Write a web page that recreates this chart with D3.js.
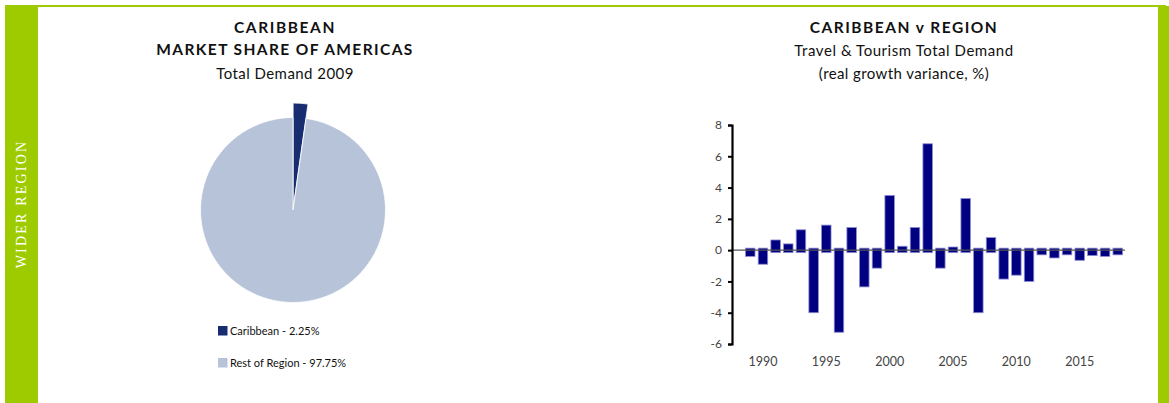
<!DOCTYPE html>
<html>
<head>
<meta charset="utf-8">
<script src="https://cdn.jsdelivr.net/npm/d3@7"></script>
<style>
  html, body { margin: 0; padding: 0; background: #fff; }
  svg { display: block; }
</style>
</head>
<body>
<svg id="chart" width="1169" height="403"></svg>
<script>
// Market share, 2009 total demand
const shareLabels = ["Caribbean", "Rest of Region"];
const shareValues = [2.25, 97.75];
const shareColors = ["#172d70", "#b6c3d9"];

// Caribbean vs region, real growth variance (%)
const years = d3.range(1989, 2019);
const variance = [
  -0.4, -0.9, 0.65, 0.4, 1.3, -4.0, 1.6, -5.25, 1.45, -2.35,
  -1.15, 3.5, 0.25, 1.45, 6.8, -1.15, 0.2, 3.3, -4.0, 0.8,
  -1.85, -1.6, -2.0, -0.3, -0.5, -0.3, -0.65, -0.35, -0.4, -0.3
];
const yTicks = [-6, -4, -2, 0, 2, 4, 6, 8];
const yearLabels = [1990, 1995, 2000, 2005, 2010, 2015];

const svg = d3.select("#chart");
const green = "#9ecb00";
const font = "Lato, 'Open Sans', sans-serif";

// Frame
svg.append("rect").attr("x", 5).attr("y", 5).attr("width", 1161).attr("height", 2).attr("fill", green);
svg.append("rect").attr("x", 5).attr("y", 5).attr("width", 33).attr("height", 398).attr("fill", green);
svg.append("rect").attr("x", 1158).attr("y", 6).attr("width", 11).attr("height", 397).attr("fill", green);
svg.append("text")
  .attr("transform", "translate(25.5,204) rotate(-90)")
  .attr("text-anchor", "middle")
  .attr("fill", "#fff")
  .attr("font-family", "'Liberation Serif', 'DejaVu Serif', serif")
  .attr("font-size", 14)
  .attr("letter-spacing", 2.2)
  .text("WIDER REGION");

// Titles
function titleBlock(cx, lines) {
  lines.forEach(l => {
    svg.append("text")
      .attr("x", cx).attr("y", l.y)
      .attr("text-anchor", "middle")
      .attr("font-family", font)
      .attr("font-weight", l.bold ? 700 : 400)
      .attr("font-size", l.size)
      .attr("letter-spacing", l.ls)
      .attr("fill", "#111")
      .text(l.text);
  });
}
titleBlock(285, [
  { text: "CARIBBEAN", y: 33, bold: true, size: 15.5, ls: 1.6 },
  { text: "MARKET SHARE OF AMERICAS", y: 55, bold: true, size: 15.5, ls: 1.4 },
  { text: "Total Demand 2009", y: 79, bold: false, size: 15, ls: 0.45 }
]);
titleBlock(904, [
  { text: "CARIBBEAN v REGION", y: 33, bold: true, size: 15.5, ls: 1.5 },
  { text: "Travel & Tourism Total Demand", y: 56, bold: false, size: 15, ls: 0.55 },
  { text: "(real growth variance, %)", y: 79, bold: false, size: 15, ls: 0.4 }
]);

// Pie
const pieData = d3.pie().sort(null).value(d => d)(shareValues);
const radius = 92.5;
const pieG = svg.append("g").attr("transform", "translate(293,210)");
pieData.forEach((d, i) => {
  const exploded = i === 0;
  const arc = d3.arc().innerRadius(0).outerRadius(exploded ? radius + 13 : radius);
  const mid = (d.startAngle + d.endAngle) / 2;
  const off = exploded ? 1.5 : 0;
  pieG.append("path")
    .attr("d", arc(d))
    .attr("transform", `translate(${Math.sin(mid) * off},${-Math.cos(mid) * off})`)
    .attr("fill", shareColors[i])
    .attr("stroke", "#fff")
    .attr("stroke-width", 0.8);
});

// Legend
const legend = svg.append("g");
shareLabels.forEach((lab, i) => {
  const y = 326 + i * 32;
  legend.append("rect").attr("x", 218).attr("y", y).attr("width", 9.5).attr("height", 9.5).attr("fill", shareColors[i]);
  legend.append("text")
    .attr("x", 230).attr("y", y + 9)
    .attr("font-family", font).attr("font-size", 11).attr("fill", "#111")
    .text(`${lab} - ${shareValues[i].toFixed(2)}%`);
});

// Bar chart
const x = d3.scaleBand().domain(years).range([744, 1124]).paddingInner(0.25).paddingOuter(0.12);
const y = d3.scaleLinear().domain([-6, 8]).range([344, 125]);

const bars = svg.append("g");
years.forEach((yr, i) => {
  const v = variance[i];
  const top = y(Math.max(v, 0)) - (v < 0 ? 2 : 0);
  const bot = y(Math.min(v, 0)) + (v > 0 ? 2.5 : 0);
  bars.append("rect")
    .attr("x", x(yr)).attr("y", top)
    .attr("width", x.bandwidth()).attr("height", bot - top)
    .attr("fill", "#000080")
    .attr("stroke", "#8d8dd6")
    .attr("stroke-width", 0.8);
});

// Zero line over bars
svg.append("line")
  .attr("x1", 731).attr("x2", 1125)
  .attr("y1", y(0)).attr("y2", y(0))
  .attr("stroke", "#555").attr("stroke-width", 1.3);

// Y axis
const yAxis = svg.append("g")
  .attr("transform", "translate(732,0)")
  .call(d3.axisLeft(y).tickValues(yTicks).tickSize(4).tickPadding(6).tickFormat(d => String(d)));
yAxis.select(".domain").attr("stroke", "#000").attr("stroke-width", 2.2);
yAxis.selectAll(".tick line").attr("stroke", "#000").attr("stroke-width", 2);
yAxis.selectAll(".tick text").attr("fill", "#444").attr("font-family", font).attr("font-size", 12);

// Year labels
svg.append("g").selectAll("text").data(yearLabels).join("text")
  .attr("x", d => x(d) + x.bandwidth() / 2)
  .attr("y", 366)
  .attr("text-anchor", "middle")
  .attr("font-family", font).attr("font-size", 12.5).attr("fill", "#444")
  .text(d => d);
</script>
</body>
</html>
